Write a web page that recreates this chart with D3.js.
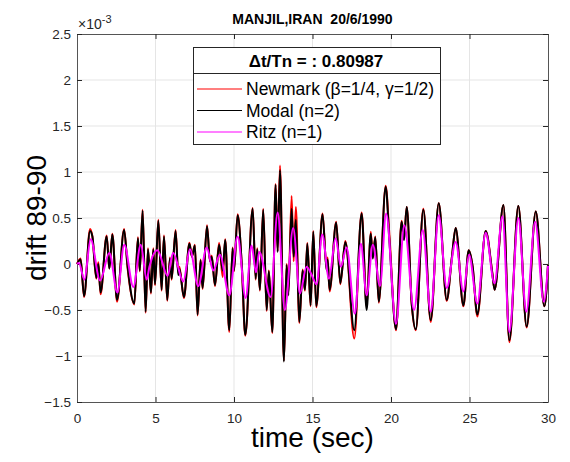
<!DOCTYPE html>
<html>
<head>
<meta charset="utf-8">
<script src="https://cdn.jsdelivr.net/npm/d3@7"></script>
<style>
  body { margin: 0; background: #fff; }
  text { font-family: "Liberation Sans", Arial, sans-serif; }
</style>
</head>
<body>
<svg id="chart" width="570" height="462"></svg>
<script>
// values, drift in units of 1e-3
var modal = [[0,0],[0.23,0.05],[0.45,-0.35],[0.83,0.36],[0.98,0.30],[1.23,-0.15],[1.36,0.0],[1.5,-0.31],
  [1.89,0.30],[2.06,-0.05],[2.25,0.32],[2.55,-0.39],[3.0,0.37],[3.22,-0.02],[3.65,-0.43],[3.88,0.28],[4.0,-0.07],
  [4.18,0.58],[4.37,-0.52],[4.52,0.16],[4.71,-0.31],[4.86,0.16],[4.97,-0.22],[5.18,0.47],[5.39,-0.28],[5.54,0.30],
  [5.75,-0.39],[5.92,0.06],[6.03,-0.16],[6.28,0.36],[6.45,-0.12],[6.52,-0.05],[6.81,-0.36],[7.16,0.22],[7.32,0.08],
  [7.51,0.2],[7.68,-0.55],[7.87,0.04],[8.0,-0.26],[8.28,0.41],[8.47,0.03],[8.58,0.08],[8.79,-0.23],[9.05,0.21],
  [9.28,-0.07],[9.44,0.26],[9.7,-0.72],[9.91,0.17],[10.0,-0.07],[10.23,0.53],[10.5,-0.02],[10.72,-0.77],[11.19,0.60],
  [11.38,-0.16],[11.48,0.16],[11.65,-0.28],[11.86,0.59],[12.08,-0.50],[12.22,-0.08],[12.44,-0.74],[12.65,0.86],
  [12.78,0.13],[12.93,1.02],[13.18,-1.06],[13.35,-0.01],[13.46,-0.34],[13.67,0.6],[13.8,0.08],[13.94,0.48],
  [14.16,-0.63],[14.37,-0.07],[14.52,-0.28],[14.67,0.22],[14.88,-0.45],[15.05,0.35],[15.24,-0.46],[15.64,0.54],
  [15.9,-0.07],[15.96,0.05],[16.09,-0.28],[16.51,0.45],[16.77,-0.21],[17.09,0.24],[17.66,-0.72],[18.13,0.55],
  [18.45,-0.50],[18.71,0.33],[18.84,0.06],[19.0,0.29],[19.22,-0.41],[19.66,0.84],[19.9,0.25],[20.32,-0.71],
  [20.68,0.46],[20.83,0.26],[21.0,0.62],[21.32,-0.43],[21.58,-0.71],[22.06,0.59],[22.53,-0.61],[23.04,0.66],
  [23.55,-0.39],[23.87,0.06],[24.12,0.39],[24.61,-0.45],[24.95,0.15],[25.2,-0.03],[25.5,-0.55],[26.03,0.36],
  [26.45,-0.1],[26.6,-0.28],[27.16,0.64],[27.54,-0.83],[28.11,0.63],[28.64,-0.68],[29.22,0.57],[29.77,-0.46],[30,-0.01]];

var newmark = [[0,0],[0.23,0.06],[0.45,-0.36],[0.83,0.38],[0.98,0.30],[1.23,-0.16],[1.36,0.02],[1.5,-0.33],
  [1.89,0.31],[2.06,-0.05],[2.25,0.33],[2.55,-0.41],[3.0,0.38],[3.22,-0.04],[3.65,-0.44],[3.88,0.29],[4.0,-0.08],
  [4.18,0.59],[4.37,-0.53],[4.52,0.17],[4.71,-0.32],[4.86,0.17],[4.97,-0.23],[5.18,0.48],[5.39,-0.29],[5.54,0.31],
  [5.75,-0.40],[5.92,0.07],[6.03,-0.17],[6.28,0.37],[6.45,-0.10],[6.52,-0.03],[6.81,-0.37],[7.16,0.23],[7.32,0.08],
  [7.51,0.21],[7.68,-0.56],[7.87,0.05],[8.0,-0.27],[8.28,0.42],[8.47,0.03],[8.58,0.09],[8.79,-0.24],[9.05,0.23],
  [9.28,-0.14],[9.44,0.27],[9.7,-0.74],[9.91,0.18],[10.0,-0.08],[10.23,0.54],[10.5,-0.03],[10.72,-0.78],[11.19,0.61],
  [11.38,-0.17],[11.48,0.17],[11.65,-0.29],[11.86,0.60],[12.08,-0.51],[12.22,-0.07],[12.44,-0.75],[12.65,0.87],
  [12.78,0.14],[12.93,1.07],[13.18,-1.05],[13.35,0.0],[13.46,-0.33],[13.67,0.74],[13.8,0.03],[13.94,0.62],
  [14.16,-0.64],[14.37,-0.06],[14.52,-0.29],[14.67,0.23],[14.88,-0.46],[15.05,0.36],[15.24,-0.47],[15.64,0.55],
  [15.9,-0.06],[15.96,0.07],[16.09,-0.30],[16.51,0.46],[16.77,-0.22],[17.09,0.25],[17.66,-0.81],[18.13,0.56],
  [18.45,-0.46],[18.71,0.35],[18.84,0.07],[19.0,0.30],[19.22,-0.42],[19.66,0.85],[19.9,0.31],[20.32,-0.72],
  [20.68,0.47],[20.83,0.27],[21.0,0.62],[21.32,-0.44],[21.58,-0.72],[22.06,0.60],[22.53,-0.63],[23.04,0.66],
  [23.55,-0.40],[23.87,0.06],[24.12,0.39],[24.61,-0.46],[24.95,0.15],[25.2,-0.03],[25.5,-0.57],[26.03,0.36],
  [26.45,-0.09],[26.6,-0.28],[27.16,0.64],[27.54,-0.85],[28.11,0.63],[28.64,-0.69],[29.22,0.57],[29.77,-0.46],[30,-0.01]];

var ritz = [[0,0],[0.12,0.01],[0.47,-0.17],[0.87,0.27],[1.47,-0.18],[2.06,0.12],[2.57,-0.31],[3.01,0.21],
  [3.59,-0.25],[4.06,0.21],[4.44,-0.17],[4.6,-0.04],[5.12,0.15],[5.77,-0.13],[6.12,0.12],[6.77,-0.19],[7.19,0.16],
  [7.72,-0.24],[8.26,0.18],[8.68,-0.07],[9.1,0.1],[9.7,-0.34],[10.23,0.3],[10.74,-0.37],[11.12,0.2],[11.4,-0.09],
  [11.61,0.13],[12.33,-0.36],[12.78,0.56],[13.24,-0.5],[13.77,0.39],[14.2,-0.32],[14.62,-0.03],[14.9,-0.1],
  [15.26,-0.22],[15.62,0.32],[16.05,-0.16],[16.47,0.28],[16.81,-0.03],[17.17,0.18],[17.7,-0.54],[18.08,0.22],
  [18.45,-0.34],[18.84,0.21],[19.3,-0.24],[19.69,0.55],[20.32,-0.65],[20.85,0.42],[21.47,-0.5],[22.02,0.37],
  [22.53,-0.52],[23.04,0.53],[23.55,-0.26],[24.12,0.24],[24.61,-0.3],[24.97,0.1],[25.5,-0.43],[26.03,0.34],
  [26.59,-0.21],[27.1,0.52],[27.54,-0.74],[28.11,0.5],[28.62,-0.52],[29.18,0.46],[29.73,-0.41],[30,-0.02]];

var xTicks = [0, 5, 10, 15, 20, 25, 30];
var yTicks = [-1.5, -1, -0.5, 0, 0.5, 1, 1.5, 2, 2.5];
var seriesNames = ["Newmark (\u03b2=1/4, \u03b3=1/2)", "Modal (n=2)", "Ritz (n=1)"];
var seriesColors = ["#ff0000", "#000000", "#ff00ff"];
var legendTitle = "\u0394t/Tn = : 0.80987";
var chartTitle = "MANJIL,IRAN \u00a020/6/1990";

var plotLeft = 77, plotRight = 548, plotTop = 34, plotBottom = 402;
var svg = d3.select('#chart');

var x = d3.scaleLinear().domain([0, 30]).range([plotLeft, plotRight]);
var y = d3.scaleLinear().domain([-1.5, 2.5]).range([plotBottom, plotTop]);

// grid
svg.append('g').selectAll('line').data(xTicks.slice(1, -1)).join('line')
  .attr('x1', d => x(d)).attr('x2', d => x(d)).attr('y1', plotTop).attr('y2', plotBottom)
  .attr('stroke', '#e5e5e5').attr('stroke-width', 1);
svg.append('g').selectAll('line').data(yTicks.slice(1, -1)).join('line')
  .attr('y1', d => y(d)).attr('y2', d => y(d)).attr('x1', plotLeft).attr('x2', plotRight)
  .attr('stroke', '#e5e5e5').attr('stroke-width', 1);

// axes, ticks inside on all four sides
var axisColor = '#262626';
svg.append('g').attr('transform', 'translate(0,' + plotBottom + ')')
  .call(d3.axisBottom(x).tickValues(xTicks).tickSizeInner(-5).tickSizeOuter(0).tickPadding(11))
  .call(g => g.selectAll('text').attr('font-size', 13.5).attr('fill', axisColor));
svg.append('g').attr('transform', 'translate(0,' + plotTop + ')')
  .call(d3.axisTop(x).tickValues(xTicks).tickSizeInner(-5).tickSizeOuter(0).tickFormat(''));
svg.append('g').attr('transform', 'translate(' + plotLeft + ',0)')
  .call(d3.axisLeft(y).tickValues(yTicks).tickSizeInner(-5).tickSizeOuter(0).tickPadding(6).tickFormat(d3.format('')))
  .call(g => g.selectAll('text').attr('font-size', 13.5).attr('fill', axisColor));
svg.append('g').attr('transform', 'translate(' + plotRight + ',0)')
  .call(d3.axisRight(y).tickValues(yTicks).tickSizeInner(-5).tickSizeOuter(0).tickFormat(''));
svg.selectAll('.tick line').attr('stroke', axisColor);
svg.selectAll('.domain').attr('stroke', '#555');
svg.selectAll('.tick text').attr('font-family', '"Liberation Sans", Arial, sans-serif');

// exponent
var ex = svg.append('text').attr('x', plotLeft + 1).attr('y', plotTop - 5).attr('font-size', 14).attr('fill', axisColor);
ex.append('tspan').text('\u00d710');
ex.append('tspan').attr('dy', -6).attr('font-size', 11).text('-3');

// series
var line = d3.line().x(d => x(d[0])).y(d => y(d[1])).curve(d3.curveMonotoneX);
[newmark, modal, ritz].forEach(function(s, i) {
  svg.append('path').datum(s).attr('d', line).attr('fill', 'none')
    .attr('stroke', seriesColors[i]).attr('stroke-width', 2).attr('stroke-linejoin', 'round');
});

// title and labels
svg.append('text').attr('x', (plotLeft + plotRight) / 2).attr('y', 24).attr('text-anchor', 'middle')
  .attr('font-size', 14).attr('font-weight', 'bold').attr('fill', '#000').text(chartTitle);
svg.append('text').attr('x', (plotLeft + plotRight) / 2).attr('y', 447).attr('text-anchor', 'middle')
  .attr('font-size', 28).attr('fill', '#000').text('time (sec)');
svg.append('text').attr('transform', 'translate(46,' + ((plotTop + plotBottom) / 2) + ') rotate(-90)')
  .attr('text-anchor', 'middle').attr('font-size', 28).attr('fill', '#000').text('drift 89-90');

// legend
var lg = svg.append('g');
lg.append('rect').attr('x', 193.5).attr('y', 47.5).attr('width', 247).attr('height', 97)
  .attr('fill', '#fff').attr('stroke', '#262626').attr('stroke-width', 1);
lg.append('line').attr('x1', 193.5).attr('x2', 440.5).attr('y1', 73.5).attr('y2', 73.5)
  .attr('stroke', '#262626').attr('stroke-width', 1);
lg.append('text').attr('x', 316).attr('y', 67).attr('text-anchor', 'middle')
  .attr('font-size', 17).attr('font-weight', 'bold').attr('fill', '#000').text(legendTitle);
seriesNames.forEach(function(name, i) {
  var yy = 89 + i * 21.5;
  lg.append('line').attr('x1', 197).attr('x2', 242).attr('y1', yy).attr('y2', yy)
    .attr('stroke', seriesColors[i]).attr('stroke-width', 1.2);
  lg.append('text').attr('x', 246).attr('y', yy + 6).attr('font-size', 17.5).attr('fill', '#000').text(name);
});
</script>
</body>
</html>
